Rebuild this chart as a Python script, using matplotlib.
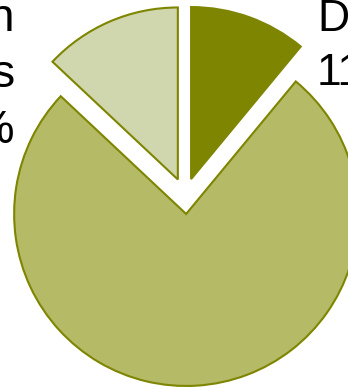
#!/usr/bin/env python3
import matplotlib
matplotlib.use('Agg')
import matplotlib.pyplot as plt
plt.rcParams['font.family'] = ['Liberation Sans', 'DejaVu Sans']

# slice shares, clockwise from 12 o'clock
shares = [11, 76, 13]
colors = ['#7e8500', '#b4ba66', '#d0d6ad']
edge = '#7e8500'

right_label = ['Design', '11%']
left_label = ['Validation', 'of designs', '13%']


def main():
    H = 389
    fig = plt.figure(figsize=(3.48, 3.89), dpi=100)
    ax = fig.add_axes([0, 0, 1, 1])
    # explode is in data units here (pixels)
    ax.pie(shares, colors=colors, explode=[18] * 3, startangle=90,
           counterclock=False, radius=172, center=(185, 193),
           wedgeprops=dict(edgecolor=edge, linewidth=1.5))
    ax.set_xlim(0, 348)
    ax.set_ylim(0, H)
    ax.set_aspect('auto')
    ax.axis('off')

    # one text per label line, baselines
    for line, base in zip(right_label, [31, 85]):
        ax.text(317, H - base, line, ha='left', va='baseline',
                fontsize=32, clip_on=False)
    for line, base in zip(left_label, [31, 87, 143]):
        ax.text(15, H - base, line, ha='right', va='baseline',
                fontsize=34, clip_on=False)

    fig.savefig('out.png', dpi=100)


if __name__ == '__main__':
    main()
